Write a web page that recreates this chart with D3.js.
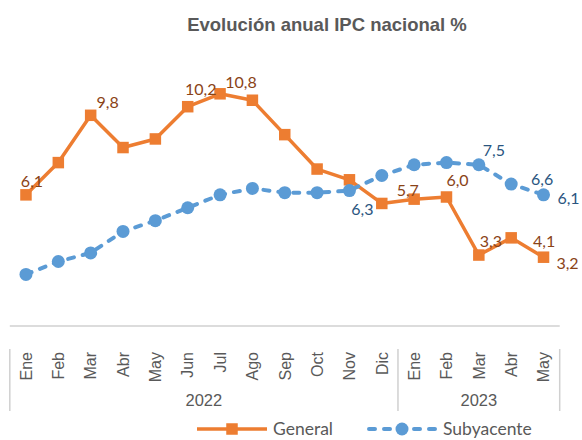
<!DOCTYPE html>
<html>
<head>
<meta charset="utf-8">
<script src="https://cdn.jsdelivr.net/npm/d3@7"></script>
<style>
  html, body { margin: 0; padding: 0; background: #fff; }
  svg { display: block; }
</style>
</head>
<body>
<svg id="chart" width="582" height="440"></svg>
<script>
const months = ["Ene","Feb","Mar","Abr","May","Jun","Jul","Ago","Sep","Oct","Nov","Dic","Ene","Feb","Mar","Abr","May"];
const years = [{ label: "2022", from: 0, to: 11 }, { label: "2023", from: 12, to: 16 }];
const general =    [6.1, 7.6, 9.8, 8.3, 8.7, 10.2, 10.8, 10.5, 8.9, 7.3, 6.8, 5.7, 5.9, 6.0, 3.3, 4.1, 3.2];
const subyacente = [2.4, 3.0, 3.4, 4.4, 4.9, 5.5, 6.1, 6.4, 6.2, 6.2, 6.3, 7.0, 7.5, 7.6, 7.5, 6.6, 6.1];
const seriesNames = ["General", "Subyacente"];

// which points carry a data label, and label placement relative to the point (dx, dy)
const generalLabels = [[0, 6, -14], [2, 17, -13], [5, 13, -17], [6, 21, -12], [11, 26, -13], [13, 11, -17], [14, 12, -14], [15, 33, 3], [16, 24, 6]];
const subLabels = [[10, 13, 19], [14, 15, -15], [15, 31, -5], [16, 25, 3]];

const orange = "#ED7D31", blue = "#5B9BD5";
const orangeLbl = "#8A4317", blueLbl = "#2A5580";
const axisGray = "#D0D0D0", textGray = "#595959";

const svg = d3.select("#chart");
const idx = d3.range(months.length);

const x = d3.scaleBand().domain(idx).range([9.8, 559.7]).paddingInner(0).paddingOuter(0);
const cx = i => x(i) + x.bandwidth() / 2;
const y = d3.scaleLinear().domain([0, 12]).range([326, 68]);

// title
svg.append("text")
  .attr("x", 327).attr("y", 31)
  .attr("text-anchor", "middle")
  .attr("font-family", "Liberation Sans, Arial, sans-serif")
  .attr("font-weight", "bold")
  .attr("font-size", 18.5)
  .attr("fill", textGray)
  .text("Evolución anual IPC nacional %");

// category axis line
svg.append("line")
  .attr("x1", x.range()[0]).attr("x2", x.range()[1])
  .attr("y1", y(0)).attr("y2", y(0))
  .attr("stroke", axisGray).attr("stroke-width", 1.5);

// group separators
const sepX = [x(0)].concat(years.map(g => x(g.to) + x.bandwidth()));
svg.selectAll("line.sep").data(sepX).enter().append("line")
  .attr("class", "sep")
  .attr("x1", d => d).attr("x2", d => d)
  .attr("y1", 349).attr("y2", 411)
  .attr("stroke", axisGray).attr("stroke-width", 1.5);

// month labels
svg.selectAll("text.month").data(idx).enter().append("text")
  .attr("class", "month")
  .attr("transform", i => `translate(${cx(i)},352) rotate(-90)`)
  .attr("dy", "0.36em")
  .attr("text-anchor", "end")
  .attr("font-family", "Liberation Sans, Arial, sans-serif")
  .attr("font-size", 16)
  .attr("fill", textGray)
  .text(i => months[i]);

// year labels
svg.selectAll("text.year").data(years).enter().append("text")
  .attr("class", "year")
  .attr("x", g => (x(g.from) + x(g.to) + x.bandwidth()) / 2)
  .attr("y", 406)
  .attr("text-anchor", "middle")
  .attr("font-family", "Liberation Sans, Arial, sans-serif")
  .attr("font-size", 16.5)
  .attr("fill", textGray)
  .text(g => g.label);

const line = d3.line().x((d, i) => cx(i)).y(d => y(d));

// General series
svg.append("path").datum(general)
  .attr("d", line).attr("fill", "none")
  .attr("stroke", orange).attr("stroke-width", 3.5).attr("stroke-linejoin", "round");
const sq = 11.5;
svg.selectAll("rect.gen").data(general).enter().append("rect")
  .attr("class", "gen")
  .attr("x", (d, i) => cx(i) - sq / 2).attr("y", d => y(d) - sq / 2)
  .attr("width", sq).attr("height", sq)
  .attr("fill", orange);

// Subyacente series
svg.append("path").datum(subyacente)
  .attr("d", line).attr("fill", "none")
  .attr("stroke", blue).attr("stroke-width", 4)
  .attr("stroke-dasharray", "6,9").attr("stroke-linecap", "round");
svg.selectAll("circle.sub").data(subyacente).enter().append("circle")
  .attr("class", "sub")
  .attr("cx", (d, i) => cx(i)).attr("cy", d => y(d))
  .attr("r", 6.5).attr("fill", blue);

const fmt = v => d3.format(".1f")(v).replace(".", ",");

function labels(data, spec, color, cls) {
  svg.selectAll("text." + cls).data(spec).enter().append("text")
    .attr("class", cls)
    .attr("x", s => cx(s[0]) + s[1])
    .attr("y", s => y(data[s[0]]) + s[2])
    .attr("dy", "0.36em")
    .attr("text-anchor", "middle")
    .attr("font-family", "Lato, Carlito, sans-serif")
    .attr("font-size", 16)
    .attr("fill", color)
    .text(s => fmt(data[s[0]]));
}
labels(general, generalLabels, orangeLbl, "glbl");
labels(subyacente, subLabels, blueLbl, "slbl");

// legend
const lg = svg.append("g").attr("font-family", "Lato, Carlito, sans-serif").attr("font-size", 17.5).attr("fill", textGray);
const ly = 429;
lg.append("line").attr("x1", 197).attr("x2", 267).attr("y1", ly).attr("y2", ly)
  .attr("stroke", orange).attr("stroke-width", 3.5);
lg.append("rect").attr("x", 232 - sq / 2).attr("y", ly - sq / 2).attr("width", sq).attr("height", sq).attr("fill", orange);
lg.append("text").attr("x", 273).attr("y", ly).attr("dy", "0.36em").text(seriesNames[0]);

lg.append("line").attr("x1", 369).attr("x2", 436).attr("y1", ly).attr("y2", ly)
  .attr("stroke", blue).attr("stroke-width", 4)
  .attr("stroke-dasharray", "6,9").attr("stroke-linecap", "round");
lg.append("circle").attr("cx", 402).attr("cy", ly).attr("r", 6.5).attr("fill", blue);
lg.append("text").attr("x", 443).attr("y", ly).attr("dy", "0.36em").text(seriesNames[1]);
</script>
</body>
</html>
